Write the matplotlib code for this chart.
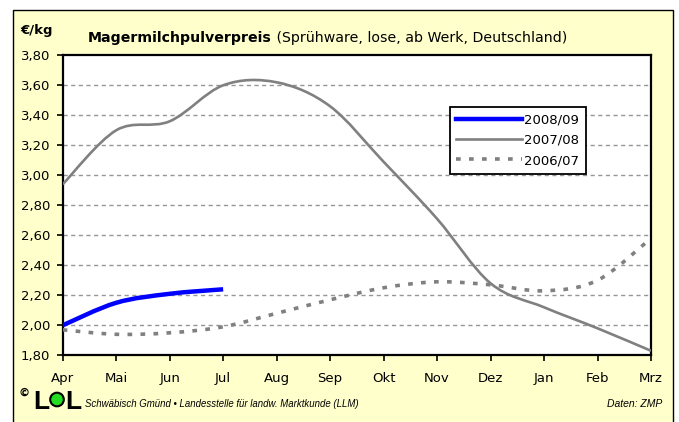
import matplotlib.pyplot as plt
from matplotlib.path import Path
from matplotlib.patches import PathPatch, Rectangle, Circle
from matplotlib.lines import Line2D

# Data (EUR/kg)
months = ['Apr', 'Mai', 'Jun', 'Jul', 'Aug', 'Sep', 'Okt', 'Nov', 'Dez', 'Jan', 'Feb', 'Mrz']
p0809 = [2.00, 2.15, 2.21, 2.24]
p0708 = [2.94, 3.30, 3.36, 3.60, 3.62, 3.46, 3.09, 2.71, 2.28, 2.12, 1.98, 1.83]
p0607 = [1.97, 1.94, 1.95, 1.99, 2.08, 2.17, 2.25, 2.29, 2.27, 2.23, 2.30, 2.58]
yticks = [1.8, 2.0, 2.2, 2.4, 2.6, 2.8, 3.0, 3.2, 3.4, 3.6, 3.8]

plt.rcParams['font.family'] = ['DejaVu Sans']

YELLOW = '#FFFFCC'
GRAY = '#808080'
DASH = (0, (1.3, 2.3))


def smooth_path(vals):
    # Excel-style smoothed line: cubic Bezier through the points
    pts = list(enumerate(vals))
    verts = [pts[0]]
    codes = [Path.MOVETO]
    n = len(pts)
    for i in range(n - 1):
        p0 = pts[max(i - 1, 0)]
        p1 = pts[i]
        p2 = pts[i + 1]
        p3 = pts[min(i + 2, n - 1)]
        c1 = (p1[0] + (p2[0] - p0[0]) / 6, p1[1] + (p2[1] - p0[1]) / 6)
        c2 = (p2[0] - (p3[0] - p1[0]) / 6, p2[1] - (p3[1] - p1[1]) / 6)
        verts += [c1, c2, p2]
        codes += [Path.CURVE4] * 3
    return Path(verts, codes)


fig = plt.figure(figsize=(6.79, 4.22), dpi=100, facecolor='white')
fig.patches.append(Rectangle((13 / 679, -0.01), 660 / 679, 1.01 - 10 / 422,
                             transform=fig.transFigure, facecolor=YELLOW,
                             edgecolor='black', linewidth=1, zorder=-5))

ax = fig.add_axes([62.7 / 679, 66.7 / 422, 588.3 / 679, 300 / 422])
ax.set_zorder(2)
ax.set_facecolor('white')
ax.set_xlim(0, 11)
ax.set_ylim(1.8, 3.8)

for v in yticks[1:-1]:
    ax.axhline(v, color='#969696', linewidth=1, linestyle=(0, (3, 2.5)), zorder=1)

ax.add_patch(PathPatch(smooth_path(p0607), fill=False, edgecolor=GRAY,
                       linewidth=2.6, linestyle=DASH, zorder=3))
ax.add_patch(PathPatch(smooth_path(p0708), fill=False, edgecolor=GRAY,
                       linewidth=1.9, zorder=3))
ax.add_patch(PathPatch(smooth_path(p0809), fill=False, edgecolor='#0000FF',
                       linewidth=3.2, zorder=4))

ax.set_xticks(range(len(months)))
ax.set_xticklabels(months, fontsize=9.5)
ax.set_yticks(yticks)
ax.set_yticklabels([f'{v:.2f}'.replace('.', ',') for v in yticks], fontsize=9.5)
ax.tick_params(axis='x', direction='out', length=4, width=1.2, pad=8)
ax.tick_params(axis='y', direction='out', length=4, width=1.2, pad=5)
for s in ax.spines.values():
    s.set_linewidth(1.6)
    s.set_color('black')

handles = [Line2D([], [], color='#0000FF', linewidth=3.2),
           Line2D([], [], color=GRAY, linewidth=1.9),
           Line2D([], [], color=GRAY, linewidth=2.6, linestyle=DASH)]
leg = ax.legend(handles, ['2008/09', '2007/08', '2006/07'], loc='upper left',
                bbox_to_anchor=(0.658, 0.828), borderaxespad=0, fontsize=9.5,
                handlelength=5.0, handletextpad=0.15, labelspacing=0.55,
                borderpad=0.5, fancybox=False, framealpha=1, edgecolor='black')
leg.get_frame().set_linewidth(1.3)

# titles
fig.text(20 / 679, 1 - 34 / 422, '€/kg', fontsize=9.5, fontweight='bold')
t1 = fig.text(88 / 679, 1 - 42 / 422, 'Magermilchpulverpreis', fontsize=10.2,
              fontweight='bold')
ax.annotate(' (Sprühware, lose, ab Werk, Deutschland)', xy=(1, 0),
            xycoords=t1, va='bottom', fontsize=10.2, annotation_clip=False)

# footer with LEL logo
fig.text(19 / 679, 1 - 396 / 422, '©', fontsize=8, fontweight='bold')
fig.text(33 / 679, 1 - 409 / 422, 'L', fontsize=19, fontweight='bold',
         family='Liberation Sans')
fig.patches.append(Circle((0.57, 0.225), 0.068, transform=fig.dpi_scale_trans,
                          facecolor='#22DD22', edgecolor='black',
                          linewidth=1.5, zorder=2))
fig.text(65 / 679, 1 - 409 / 422, 'L', fontsize=19, fontweight='bold',
         family='Liberation Sans')
fig.text(85 / 679, 1 - 407 / 422,
         'Schwäbisch Gmünd • Landesstelle für landw. Marktkunde (LLM)',
         fontsize=6.9, fontstyle='italic', family='Liberation Sans')
fig.text(662 / 679, 1 - 407 / 422, 'Daten: ZMP', fontsize=7.5,
         fontstyle='italic', ha='right', family='Liberation Sans')

fig.savefig('out.png', dpi=100, facecolor=fig.get_facecolor())
